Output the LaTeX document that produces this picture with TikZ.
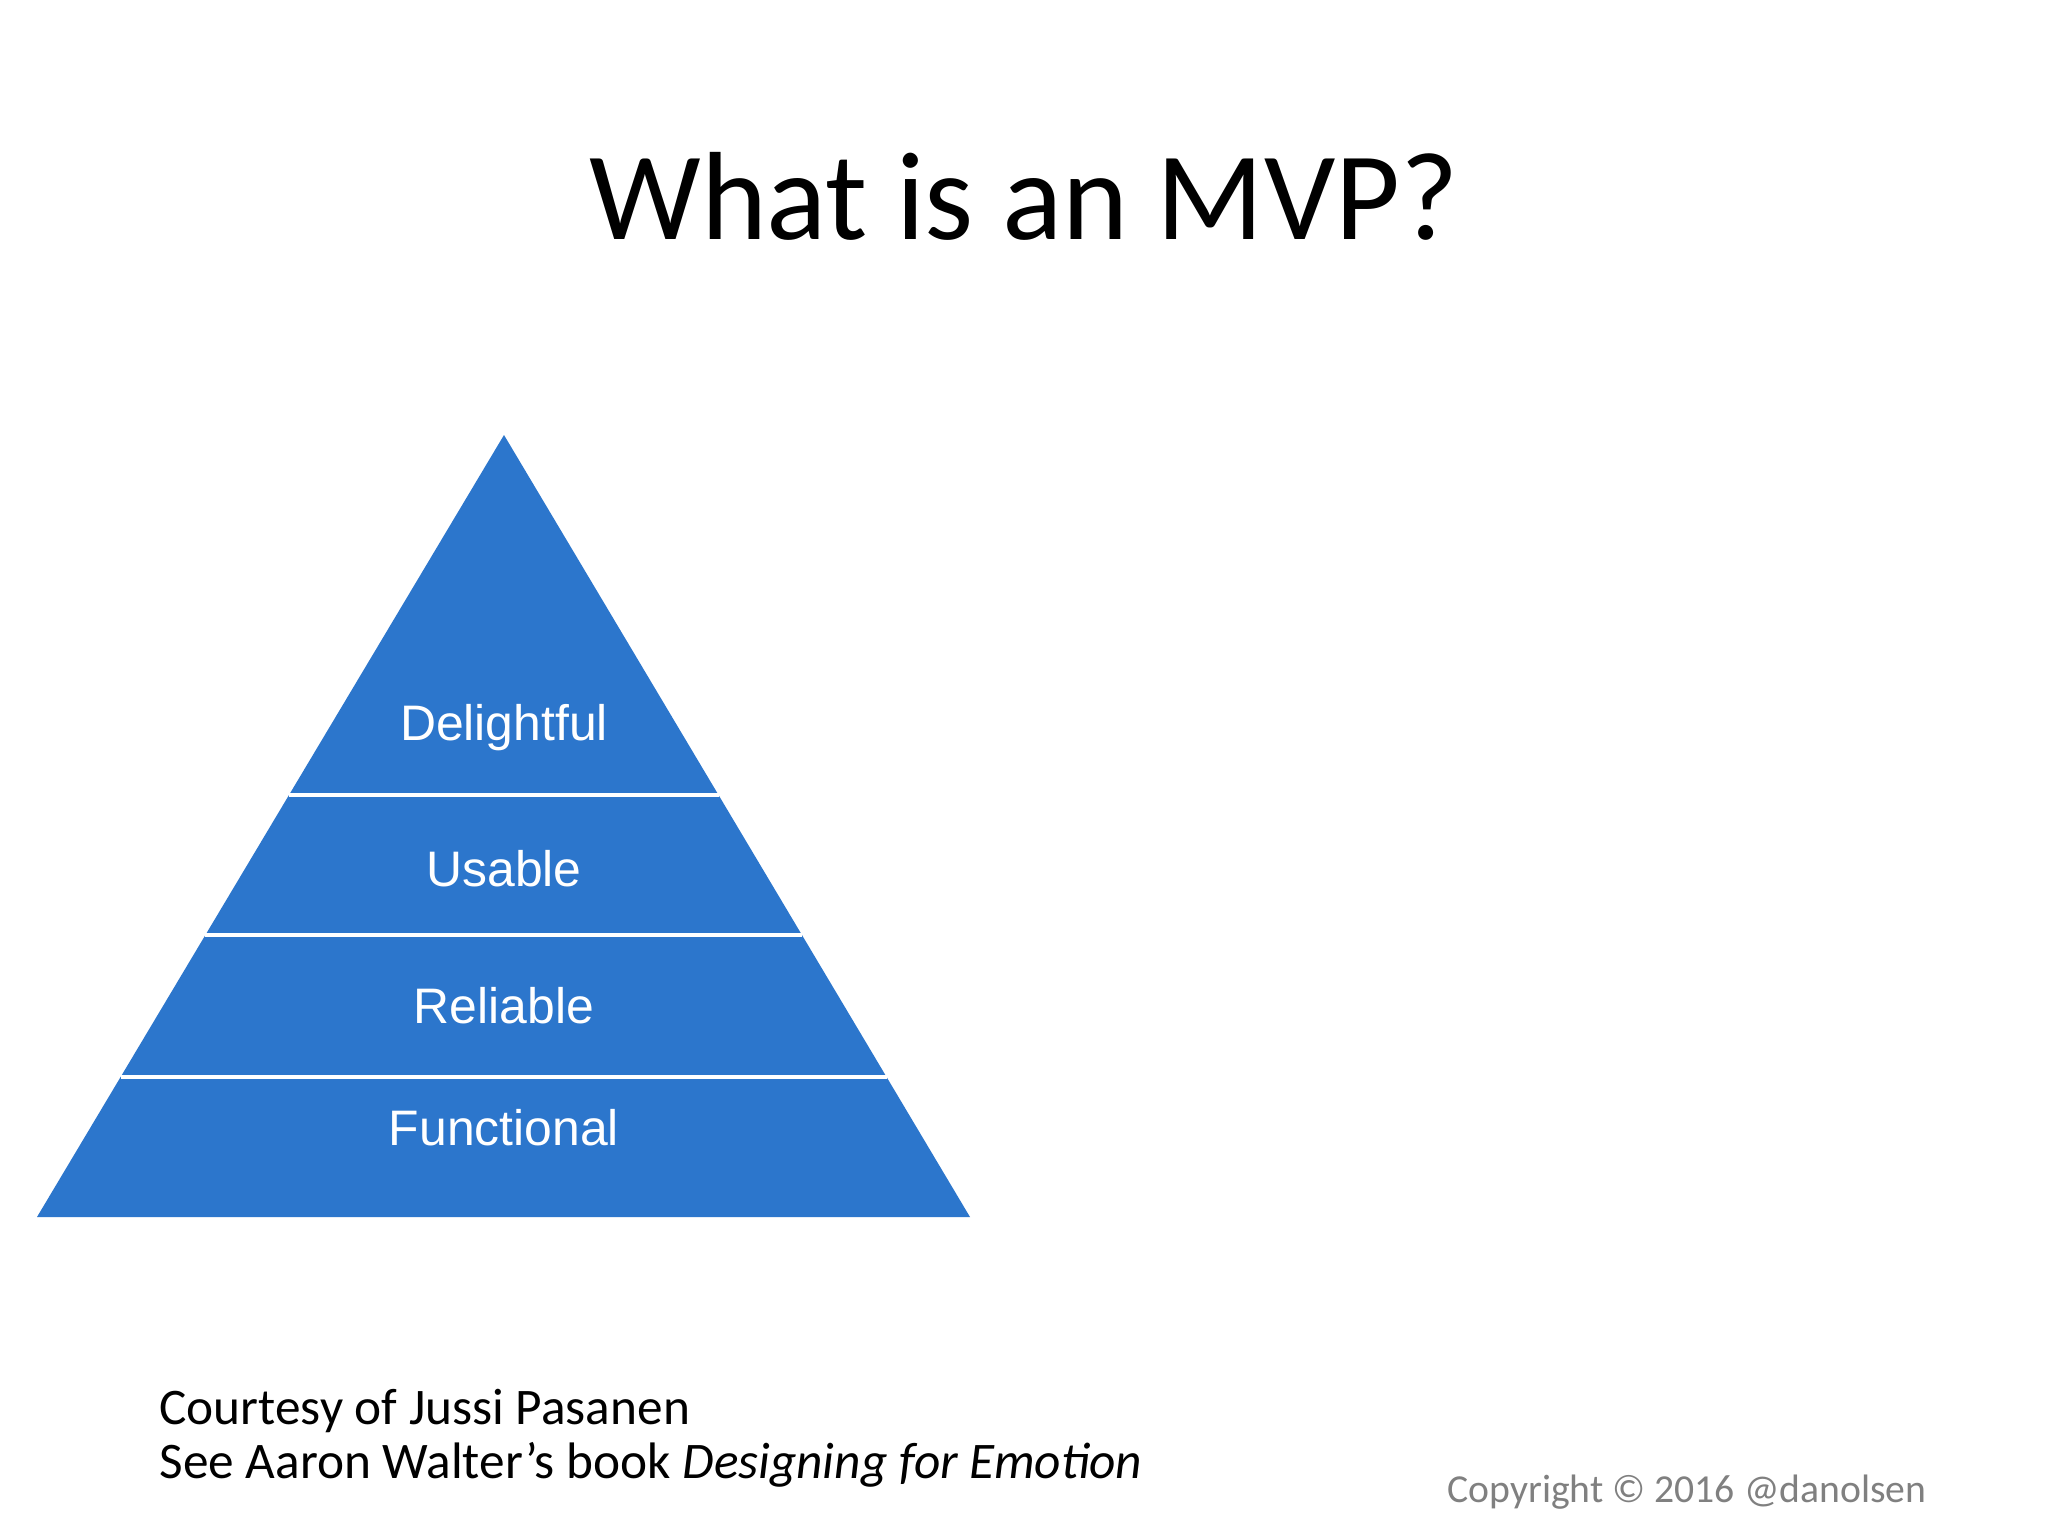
\documentclass[tikz,border=0pt]{standalone}
\usepackage{fontspec}
\setmainfont{Carlito}
\newfontfamily\pyrfont{Liberation Sans}
\usetikzlibrary{calc}

\definecolor{pyrblue}{RGB}{44,118,204}
\definecolor{footgray}{RGB}{128,128,128}

\tikzset{
    layerlabel/.style={anchor=base, inner sep=0, text=white, font=\pyrfont\fontsize{17.6}{20}\selectfont},
    gapline/.style={draw=white, line width=1.4bp},
    notetext/.style={anchor=base west, inner sep=0, font=\fontsize{18.1}{21}\selectfont},
}

\begin{document}
\begin{tikzpicture}[x=0.3515625bp, y=-0.3515625bp]
        \fill[white] (0, 0) rectangle (2048, 1536);
        \useasboundingbox (0, 0) rectangle (2048, 1536);

        \node[anchor=base, inner sep=0, font=\fontsize{44.3}{52}\selectfont] (title) at (1024, 239.5) {What is an MVP?};

        % pyramid
        \coordinate (apex) at (504, 435);
        \coordinate (bl) at (37, 1217);
        \coordinate (br) at (970, 1217);
        \fill[pyrblue] (apex) -- (bl) -- (br) -- cycle;

        \foreach \t in {0.4604, 0.6394, 0.8210}
            \draw[gapline] ($(apex)!\t!(bl)$) -- ($(apex)!\t!(br)$);

        \node[layerlabel] (delightful) at (504, 740) {Delightful};
        \node[layerlabel] (usable) at (504, 886) {Usable};
        \node[layerlabel] (reliable) at (504, 1023) {Reliable};
        \node[layerlabel] (functional) at (504, 1145) {Functional};

        % notes
        \node[notetext] (credit) at (159, 1424) {Courtesy of Jussi Pasanen};
        \node[notetext] (book) at (159, 1478) {See Aaron Walter’s book \textit{Designing for Emotion}};

        \node[anchor=base west, inner sep=0, text=footgray, font=\fontsize{14}{16}\selectfont] (copyright) at (1447, 1502) {Copyright © 2016 @danolsen};
    \end{tikzpicture}
\end{document}
